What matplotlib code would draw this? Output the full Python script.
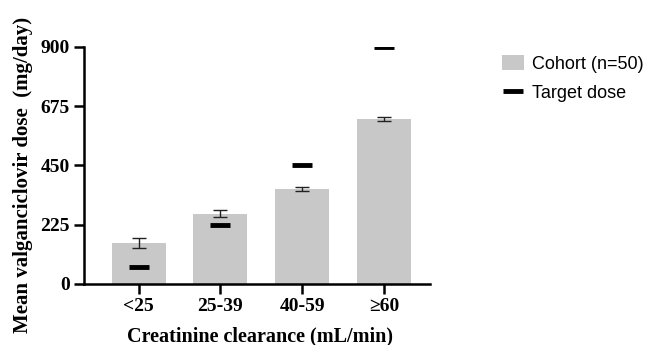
import matplotlib.pyplot as plt
import numpy as np

# data
groups = ["<25", "25-39", "40-59", "\u226560"]
cohort_mean = [156, 266, 360, 626]
cohort_err = [20, 13, 9, 9]
target_dose = [65, 225, 450, 900]
yticks = [0, 225, 450, 675, 900]

plt.rcParams.update({
    "font.family": "serif",
    "font.serif": ["Liberation Serif", "DejaVu Serif"],
    "font.weight": "bold",
})

fig = plt.figure(figsize=(6.55, 3.45), dpi=100)
ax = fig.add_axes([0.128, 0.177, 0.528, 0.687])

x = np.arange(len(groups))
bars = ax.bar(x, cohort_mean, width=0.66, color="#c8c8c8", label="Cohort (n=50)", zorder=1)
ax.errorbar(x, cohort_mean, yerr=cohort_err, fmt="none", ecolor="#222222",
            elinewidth=1.0, capsize=5, capthick=1.0, zorder=2)
tgt, = ax.plot(x, target_dose, linestyle="none", marker="_", markersize=15,
               markeredgewidth=3.5, color="black", label="Target dose", zorder=3)

ax.set_xlim(-0.67, 3.56)
ax.set_ylim(0, 900)
ax.set_xticks(x)
ax.set_xticklabels(groups)
ax.set_yticks(yticks)

for s in ["top", "right"]:
    ax.spines[s].set_visible(False)
for s in ["left", "bottom"]:
    ax.spines[s].set_linewidth(1.8)
ax.tick_params(axis="both", direction="out", length=7, width=1.8, labelsize=14)
ax.tick_params(axis="x", pad=3)
ax.tick_params(axis="y", pad=3)

ax.set_xlabel("Creatinine clearance (mL/min)", fontsize=14.5, fontweight="bold")
ax.set_ylabel("Mean valganciclovir dose  (mg/day)", fontsize=15, fontweight="bold")
ax.xaxis.set_label_coords(0.51, -0.178)
ax.yaxis.set_label_coords(-0.148, 0.46)

fig.legend(handles=[bars, tgt], labels=["Cohort (n=50)", "Target dose"],
           loc="upper left", bbox_to_anchor=(493 / 655, 1 - 46 / 345), frameon=False,
           prop={"family": "Liberation Sans", "size": 13, "weight": "normal"},
           borderpad=0, handlelength=1.2, handleheight=0.9, handletextpad=0.45,
           labelspacing=0.62)

fig.savefig("out.png", dpi=100)
